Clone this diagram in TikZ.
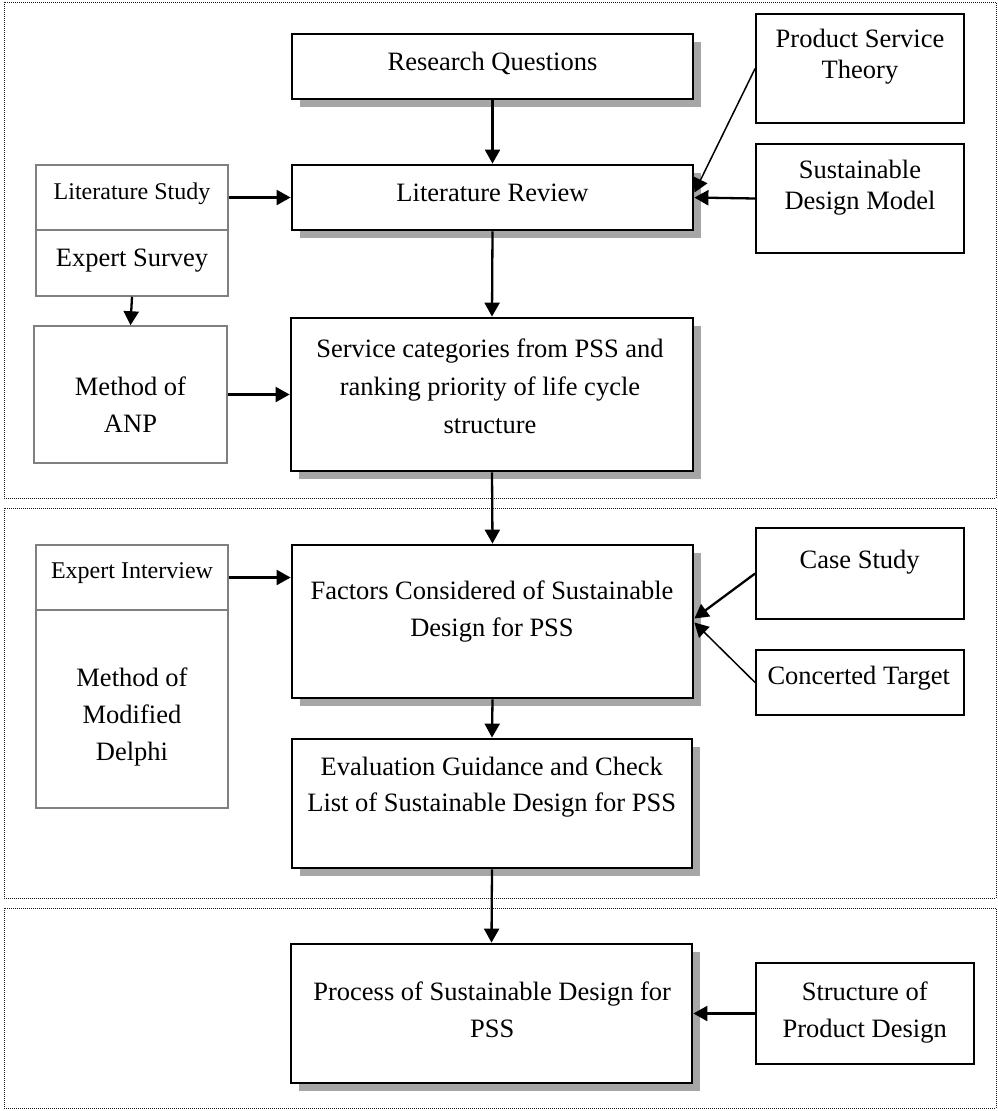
\documentclass[tikz,border=0pt]{standalone}
\usepackage{fontspec}
\setmainfont{Liberation Serif}
\usetikzlibrary{arrows.meta,shadows}
\begin{document}
\begin{tikzpicture}[x=1pt,y=-1pt,
  box/.style n args={4}{minimum width={#3-#1}, minimum height={#4-#2}, at={({(#1+#3)/2},{(#2+#4)/2})}},
  mainbox/.style={draw=black, line width=2.8pt, fill=white, inner sep=0pt,
    drop shadow={shadow xshift=8pt, shadow yshift=-8pt, fill=black!35, opacity=1}},
  sidebox/.style={draw=black, line width=1.8pt, fill=white, inner sep=0pt},
  graybox/.style={draw=black!50, line width=1.5pt, fill=white, inner sep=0pt},
  frame/.style={draw=black!90, line width=1pt, dash pattern=on 1pt off 1pt},
  txt/.style={font=\fontsize{26.5}{37}\selectfont, align=center, anchor=north, inner sep=0pt,
    execute at begin node=\rule{0pt}{20pt}},
  tight/.style={font=\fontsize{26.5}{31}\selectfont},
  small/.style={font=\fontsize{24}{30}\selectfont},
  arr/.style={line width=2.3pt, -{Triangle[length=14pt,width=15pt]}},
  thinarr/.style={line width=1.5pt, -{Triangle[length=14pt,width=15pt]}}
]
\useasboundingbox (0,0) rectangle (998,1111);
% frames
\draw[frame] (4,2) rectangle (996,498);
\draw[frame] (4,508) rectangle (996,898);
\draw[frame] (4,908) rectangle (996,1108);

% boxes
\node[mainbox, box={292}{34}{693}{99}] (rq) {};
\node[mainbox, box={292}{165}{693}{230}] (lr) {};
\node[mainbox, box={291}{318}{693}{471}] (sc) {};
\node[mainbox, box={292}{545}{693}{698}] (fac) {};
\node[mainbox, box={292}{739}{692}{868}] (ev) {};
\node[mainbox, box={291}{944}{692}{1083}] (pr) {};

\node[graybox, box={36}{165}{228}{230}] (ls) {};
\node[graybox, box={36}{230}{228}{296}] (es) {};
\node[graybox, box={34}{326}{227}{463}] (anp) {};
\node[graybox, box={36}{545}{228}{610}] (ei) {};
\node[graybox, box={36}{610}{228}{808}] (del) {};

\node[sidebox, box={756}{14}{964}{123}] (pst) {};
\node[sidebox, box={756}{144}{964}{253}] (sdm) {};
\node[sidebox, box={756}{528}{964}{619}] (cs) {};
\node[sidebox, box={756}{650}{964}{715}] (ct) {};
\node[sidebox, box={756}{963}{974}{1064}] (st) {};

% texts
\node[txt] (rqT) at (492.5,50) {Research Questions};
\node[txt] (lrT) at (492.5,181) {Literature Review};
\node[txt] (scT) at (490,339) {Service categories from PSS and\\[1pt]ranking priority of life cycle\\[1pt]structure};
\node[txt] (facT) at (492,581) {Factors Considered of Sustainable\\Design for PSS};
\node[txt] (evT) at (491.7,757) {Evaluation Guidance and Check\\[-1pt]List of Sustainable Design for PSS};
\node[txt] (prT) at (492.2,982) {Process of Sustainable Design for\\PSS};

\node[txt, small] (lsT) at (132,179) {Literature Study};
\node[txt] (esT) at (132,246) {Expert Survey};
\node[txt] (anpT) at (130.5,377) {Method of\\ANP};
\node[txt, small] (eiT) at (132,558) {Expert Interview};
\node[txt] (delT) at (132,668) {Method of\\Modified\\Delphi};

\node[txt, tight] (pstT) at (860,29) {Product Service\\Theory};
\node[txt, tight] (sdmT) at (860,160) {Sustainable\\Design Model};
\node[txt] (csT) at (859.7,548) {Case Study};
\node[txt] (ctT) at (858.7,664) {Concerted Target};
\node[txt] (stT) at (864.7,982) {Structure of\\Product Design};

% connectors
\draw[arr] (rq) -- (lr);
\draw[arr] (lr.south) -- (sc.north);
\draw[arr] (sc.south) -- (fac.north);
\draw[arr] (fac.south) -- (ev.north);
\draw[arr] (ev.south) -- (pr.north);
\draw[arr] (ls) -- (lr);
\draw[arr] (es.south) -- (anp.north);
\draw[arr] (anp) -- (sc);
\draw[arr] (ei.east) -- (ei.east -| fac.west);
\draw[thinarr] (pst.west) -- ([yshift=5pt]lr.east);
\draw[arr] (sdm.west) -- (lr.east);
\draw[arr] (cs.west) -- ([yshift=3pt]fac.east);
\draw[thinarr] (ct.west) -- ([yshift=-1pt]fac.east);
\draw[arr] (st.west) -- (pr.east);
\end{tikzpicture}
\end{document}
